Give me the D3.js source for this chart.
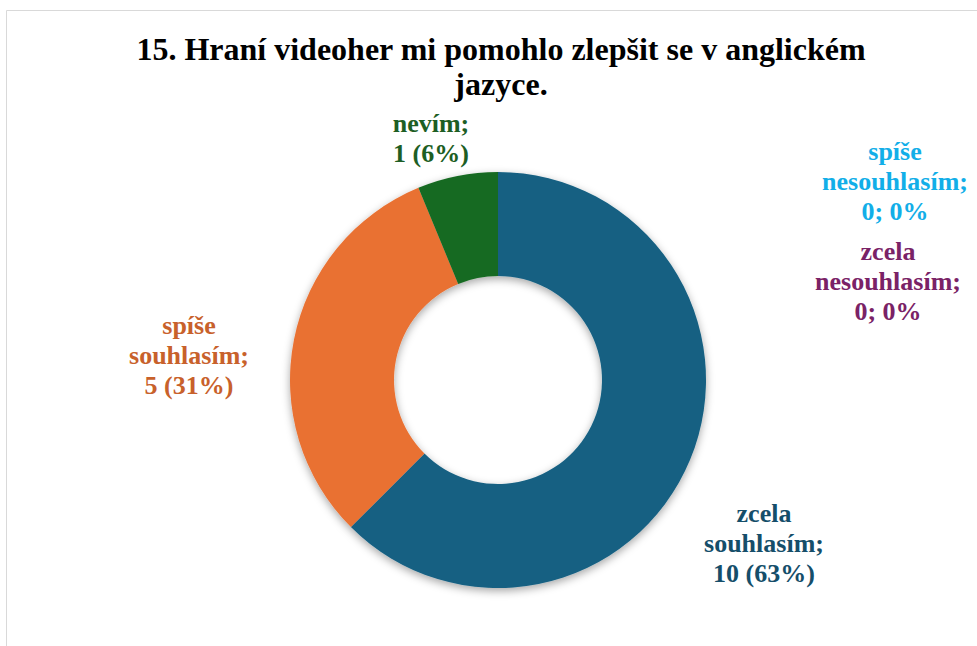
<!DOCTYPE html>
<html>
<head>
<meta charset="utf-8">
<script src="https://cdn.jsdelivr.net/npm/d3@7"></script>
</head>
<body>
<div id="chart"></div>
<script>
// chart data
const titleLines = ["15. Hraní videoher mi pomohlo zlepšit se v anglickém", "jazyce."];
const categories = ["zcela souhlasím", "spíše nesouhlasím", "zcela nesouhlasím", "spíše souhlasím", "nevím"];
const counts = [10, 0, 0, 5, 1];
const sliceColors = ["#156082", "#0F9ED5", "#A02B93", "#E97132", "#196B24"];
const labelColors = ["#154E6A", "#12AEE8", "#7A2266", "#C8612B", "#1D5E24"];
const labelLines = [
    ["zcela", "souhlasím;", "10 (63%)"],
    ["spíše", "nesouhlasím;", "0; 0%"],
    ["zcela", "nesouhlasím;", "0; 0%"],
    ["spíše", "souhlasím;", "5 (31%)"],
    ["nevím;", "1 (6%)"]
];

const W = 977, H = 646;
const cx = 498, cy = 380, R = 208, r = 104;
const FONT = "Liberation Serif";

// where the labels sit (centre x, first baseline y)
const labelPos = [
    { x: 764, y: 522 },
    { x: 895, y: 160 },
    { x: 888, y: 260 },
    { x: 189, y: 334 },
    { x: 431, y: 132 }
];

d3.select("body").style("margin", "0px");

const svg = d3.select("#chart")
    .append("svg")
    .attr("width", W)
    .attr("height", H);

const defs = svg.append("defs");
const shadow = defs.append("filter")
    .attr("id", "shadow")
    .attr("x", "-20%").attr("y", "-20%")
    .attr("width", "140%").attr("height", "140%");
shadow.append("feDropShadow")
    .attr("dx", 0).attr("dy", 3)
    .attr("stdDeviation", 4)
    .attr("flood-color", "#000")
    .attr("flood-opacity", 0.35);

// chart area border (only top and left visible)
svg.append("path")
    .attr("d", `M6.5,${H} L6.5,10.5 L${W},10.5`)
    .attr("fill", "none")
    .attr("stroke", "#D9D9D9")
    .attr("stroke-width", 1);

// title, one text per line
svg.append("g")
    .selectAll("text")
    .data(titleLines)
    .join("text")
    .attr("x", 501)
    .attr("y", (d, i) => 60 + i * 35)
    .attr("text-anchor", "middle")
    .attr("font-family", FONT)
    .attr("font-weight", "bold")
    .attr("font-size", 32)
    .attr("fill", "#000")
    .text(d => d);

const pie = d3.pie().sort(null).value(d => d);
const arcs = pie(counts);
const arc = d3.arc().innerRadius(r).outerRadius(R);

const g = svg.append("g")
    .attr("transform", `translate(${cx},${cy})`)
    .attr("filter", "url(#shadow)");

g.selectAll("path")
    .data(arcs)
    .join("path")
    .attr("d", arc)
    .attr("fill", (d, i) => sliceColors[i]);

// data labels, one text per line
const labelRows = labelLines.flatMap((lines, i) => lines.map((t, j) => ({ t, i, j })));

svg.append("g")
    .selectAll("text")
    .data(labelRows)
    .join("text")
    .attr("x", d => labelPos[d.i].x)
    .attr("y", d => labelPos[d.i].y + d.j * 30)
    .attr("text-anchor", "middle")
    .attr("font-family", FONT)
    .attr("font-weight", "bold")
    .attr("font-size", 26)
    .attr("fill", d => labelColors[d.i])
    .text(d => d.t);
</script>
</body>
</html>
